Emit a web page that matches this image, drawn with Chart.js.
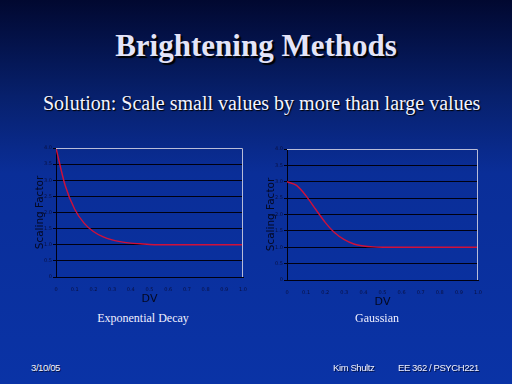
<!DOCTYPE html>
<html>
<head>
<meta charset="utf-8">
<script src="https://cdn.jsdelivr.net/npm/chart.js@4"></script>
<style>
  html, body { margin: 0; padding: 0; }
  #slide {
    position: relative; width: 512px; height: 384px; overflow: hidden;
    background: linear-gradient(to bottom, #010830 0%, #07206c 25%, #0a2e98 45%, #0a33a6 100%);
  }
  .t { position: absolute; white-space: nowrap; }
  #title { left: 0; width: 512px; top: 28px; text-align: center;
    font: bold 31px "Liberation Serif", serif; color: #e4e4f8; text-shadow: 2px 2px 1px #000; }
  #sub { left: 43px; top: 92px; font: 20px "Liberation Serif", serif; color: #f4f4ff; text-shadow: 1px 1px 1px #000; }
  .cap { font: 12px "Liberation Serif", serif; color: #f0f0ff; text-align: center; width: 160px; }
  .foot { font: 9.5px "Liberation Sans", sans-serif; color: #f4f4ff; letter-spacing: -0.4px; text-shadow: 1px 1px 0 #001040; }
  .box { position: absolute; }
</style>
</head>
<body>
<div id="slide">
  <div class="t" id="title">Brightening Methods</div>
  <div class="t" id="sub">Solution: Scale small values by more than large values</div>

  <div class="box" style="left:30px; top:140px; width:220px; height:170px;"><canvas id="expChart"></canvas></div>
  <div class="box" style="left:261px; top:141px; width:224px; height:172px;"><canvas id="gaussChart"></canvas></div>

  <div class="t cap" style="left:63px; top:311px;">Exponential Decay</div>
  <div class="t cap" style="left:297px; top:311px;">Gaussian</div>

  <div class="t foot" style="left:31px; top:362px;">3/10/05</div>
  <div class="t foot" style="left:333px; top:362px;">Kim Shultz</div>
  <div class="t foot" style="left:398px; top:362px;">EE 362 / PSYCH221</div>
</div>
<script>
// ===== Data =====
const dvValues = [0, 0.05, 0.1, 0.15, 0.2, 0.25, 0.3, 0.35, 0.4, 0.45, 0.5,
                  0.55, 0.6, 0.65, 0.7, 0.75, 0.8, 0.85, 0.9, 0.95, 1];
const expDecay = [4, 2.82, 2.1, 1.67, 1.41, 1.25, 1.15, 1.09, 1.05, 1.03, 1.01,
                  1, 1, 1, 1, 1, 1, 1, 1, 1, 1];
const gaussian = [3, 2.89, 2.57, 2.16, 1.76, 1.44, 1.23, 1.1, 1.04, 1.01, 1,
                  1, 1, 1, 1, 1, 1, 1, 1, 1, 1];
const xTicks = [0, 0.1, 0.2, 0.3, 0.4, 0.5, 0.6, 0.7, 0.8, 0.9, 1];
const yTicks = [0, 0.5, 1, 1.5, 2, 2.5, 3, 3.5, 4];

// light border on top and right of the plot area
const plotFrame = {
  id: "plotFrame",
  afterDraw(chart) {
    const a = chart.chartArea, c = chart.ctx;
    c.save();
    c.strokeStyle = "#b8bcd8";
    c.lineWidth = 1;
    c.beginPath();
    c.moveTo(a.left, a.top + 0.5);
    c.lineTo(a.right - 0.5, a.top + 0.5);
    c.lineTo(a.right - 0.5, a.bottom);
    c.stroke();
    c.restore();
  }
};

function makeChart(id, values) {
  const tickFont = { family: "DejaVu Sans", size: 5 };
  return new Chart(document.getElementById(id), {
    type: "line",
    data: {
      datasets: [{
        data: dvValues.map((x, i) => ({ x: x, y: values[i] })),
        borderColor: "#d0103a",
        borderWidth: 1.4,
        pointRadius: 0,
        tension: 0.3,
        fill: false
      }]
    },
    options: {
      responsive: true,
      maintainAspectRatio: false,
      animation: false,
      layout: { padding: { top: 8, right: 7, left: 0, bottom: 0 } },
      plugins: { legend: { display: false }, tooltip: { enabled: false } },
      scales: {
        x: {
          type: "linear", min: 0, max: 1,
          afterBuildTicks: (s) => { s.ticks = xTicks.map((v) => ({ value: v })); },
          afterFit: (s) => { s.height = 33; },
          grid: { display: false, drawTicks: true },
          border: { color: "#000010", width: 1 },
          ticks: { color: "#0a1040", font: tickFont, padding: 2, maxRotation: 0 },
          title: { display: true, text: "DV", color: "#040820",
                   font: { family: "DejaVu Sans", size: 11 }, padding: { top: 3 } }
        },
        y: {
          min: 0, max: 4,
          afterBuildTicks: (s) => { s.ticks = yTicks.map((v) => ({ value: v })); },
          afterFit: (s) => { s.width = 26; },
          grid: { color: "#000010", lineWidth: 1, tickLength: 3 },
          border: { color: "#000010", width: 1 },
          ticks: { color: "#0a1040", font: tickFont, padding: 1 },
          title: { display: true, text: "Scaling Factor", color: "#040820",
                   font: { family: "DejaVu Sans", size: 10.5 }, padding: { bottom: 2 } }
        }
      }
    },
    plugins: [plotFrame]
  });
}

makeChart("expChart", expDecay);
makeChart("gaussChart", gaussian);
</script>
</body>
</html>
